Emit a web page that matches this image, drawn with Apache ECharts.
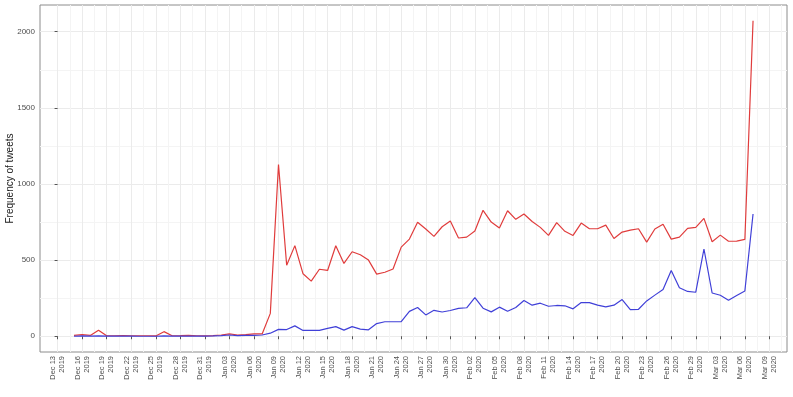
<!DOCTYPE html>
<html>
<head>
<meta charset="utf-8">
<script src="https://cdn.jsdelivr.net/npm/echarts@6/dist/echarts.min.js"></script>
<style>
  html, body { margin: 0; padding: 0; background: #fff; }
  #chart { width: 793px; height: 397px; }
</style>
</head>
<body>
<div id="chart"></div>
<script>
// daily counts, 15 Dec 2019 -> 07 Mar 2020
var dates = [
  '2019-12-15', '2019-12-16', '2019-12-17', '2019-12-18', '2019-12-19', '2019-12-20', '2019-12-21',
  '2019-12-22', '2019-12-23', '2019-12-24', '2019-12-25', '2019-12-26', '2019-12-27', '2019-12-28',
  '2019-12-29', '2019-12-30', '2019-12-31',
  '2020-01-01', '2020-01-02', '2020-01-03', '2020-01-04', '2020-01-05', '2020-01-06', '2020-01-07',
  '2020-01-08', '2020-01-09', '2020-01-10', '2020-01-11', '2020-01-12', '2020-01-13', '2020-01-14',
  '2020-01-15', '2020-01-16', '2020-01-17', '2020-01-18', '2020-01-19', '2020-01-20', '2020-01-21',
  '2020-01-22', '2020-01-23', '2020-01-24', '2020-01-25', '2020-01-26', '2020-01-27', '2020-01-28',
  '2020-01-29', '2020-01-30', '2020-01-31',
  '2020-02-01', '2020-02-02', '2020-02-03', '2020-02-04', '2020-02-05', '2020-02-06', '2020-02-07',
  '2020-02-08', '2020-02-09', '2020-02-10', '2020-02-11', '2020-02-12', '2020-02-13', '2020-02-14',
  '2020-02-15', '2020-02-16', '2020-02-17', '2020-02-18', '2020-02-19', '2020-02-20', '2020-02-21',
  '2020-02-22', '2020-02-23', '2020-02-24', '2020-02-25', '2020-02-26', '2020-02-27', '2020-02-28',
  '2020-02-29',
  '2020-03-01', '2020-03-02', '2020-03-03', '2020-03-04', '2020-03-05', '2020-03-06', '2020-03-07'
]

var redCounts = [
  5, 10, 5, 40, 3, 3, 4, 3, 3, 3, 2, 30, 3, 4, 6, 3, 2,
  4, 8, 15, 8, 10, 15, 15, 150, 1128, 466, 595, 410, 362, 440,
  432, 594, 478, 555, 535, 500, 408, 420, 442, 585, 638, 749, 704, 656,
  719, 757, 645,
  651, 691, 827, 750, 711, 824, 768, 803, 754, 715, 662, 746, 689, 662,
  743, 706, 706, 730, 642, 684, 697, 706, 618, 704, 735, 638, 651, 708, 715,
  774, 621, 664, 624, 625, 636, 2072
]

var blueCounts = [
  0, 2, 1, 2, 1, 1, 1, 1, 0, 0, 0, 2, 1, 1, 1, 1, 1,
  2, 4, 8, 4, 5, 6, 8, 20, 45, 44, 68, 38, 38, 38,
  52, 63, 40, 63, 47, 42, 83, 95, 95, 96, 163, 189, 140, 170,
  159, 169, 183,
  187, 254, 184, 160, 191, 164, 189, 235, 204, 217, 197, 202, 200, 180,
  221, 221, 204, 193, 204, 241, 175, 177, 232, 270, 307, 432, 318, 294, 289,
  573, 284, 269, 237, 268, 297, 803
]

var tickLabels = [
  'Dec 13\n2019', 'Dec 16\n2019', 'Dec 19\n2019', 'Dec 22\n2019', 'Dec 25\n2019', 'Dec 28\n2019', 'Dec 31\n2019',
  'Jan 03\n2020', 'Jan 06\n2020', 'Jan 09\n2020', 'Jan 12\n2020', 'Jan 15\n2020', 'Jan 18\n2020', 'Jan 21\n2020',
  'Jan 24\n2020', 'Jan 27\n2020', 'Jan 30\n2020', 'Feb 02\n2020', 'Feb 05\n2020', 'Feb 08\n2020', 'Feb 11\n2020',
  'Feb 14\n2020', 'Feb 17\n2020', 'Feb 20\n2020', 'Feb 23\n2020', 'Feb 26\n2020', 'Feb 29\n2020', 'Mar 03\n2020',
  'Mar 06\n2020', 'Mar 09\n2020'
]

var yTicks = [0, 500, 1000, 1500, 2000]
var yMinor = [250, 750, 1250, 1750]

// x is days since the first tick (13 Dec 2019)
var origin = Date.parse('2019-12-13')
function dayOf(d) {
  return Math.round((Date.parse(d) - origin) / 86400000)
}
var xTicks = tickLabels.map(function(l, i) { return i * 3 })
var xMinor = tickLabels.map(function(l, i) { return i * 3 + 1.5 })

var xs = dates.map(dayOf)
var spanX = xs[xs.length - 1] - xs[0]
var xMin = xs[0] - spanX * 0.05
var xMax = xs[xs.length - 1] + spanX * 0.05
var yTop = Math.max.apply(null, redCounts.concat(blueCounts))
var yMin = -yTop * 0.05
var yMax = yTop * 1.05

var gridColor = '#ebebeb'
var textColor = '#4d4d4d'

var chart = echarts.init(document.getElementById('chart'), null, { renderer: 'canvas' })
chart.setOption({
  animation: false,
  backgroundColor: '#fff',
  textStyle: { fontFamily: 'Liberation Sans, Arial, sans-serif' },
  grid: {
    left: 40,
    right: 6,
    top: 5,
    bottom: 45,
    containLabel: false,
    outerBoundsMode: 'none',
    show: true,
    borderColor: '#8c8c8c',
    borderWidth: 1,
    backgroundColor: '#fff'
  },
  xAxis: [
    {
      type: 'value',
      min: xMin,
      max: xMax,
      axisLine: { show: false },
      axisTick: { show: true, length: 3, customValues: xTicks, lineStyle: { color: '#555' } },
      axisLabel: {
        customValues: xTicks,
        rotate: 90,
        margin: 4,
        fontSize: 7.5,
        lineHeight: 9,
        color: textColor,
        formatter: function(v) { return tickLabels[Math.round(v / 3)] }
      },
      splitLine: { show: true, lineStyle: { color: gridColor, width: 1 } }
    },
    {
      type: 'value',
      min: xMin,
      max: xMax,
      axisLine: { show: false },
      axisTick: { show: false, customValues: xMinor },
      axisLabel: { show: false, customValues: xMinor },
      splitLine: { show: true, lineStyle: { color: '#f4f4f4', width: 1 } }
    }
  ],
  yAxis: [
    {
      type: 'value',
      min: yMin,
      max: yMax,
      name: 'Frequency of tweets',
      nameLocation: 'middle',
      nameRotate: 90,
      nameGap: 25,
      nameMoveOverlap: false,
      nameTextStyle: { fontSize: 10, color: '#1a1a1a' },
      axisLine: { show: false },
      axisTick: { show: true, length: 3, customValues: yTicks, lineStyle: { color: '#555' } },
      axisLabel: {
        customValues: yTicks,
        fontSize: 8,
        margin: 5,
        color: textColor,
        formatter: function(v) { return String(v) }
      },
      splitLine: { show: true, lineStyle: { color: gridColor, width: 1 } }
    },
    {
      type: 'value',
      min: yMin,
      max: yMax,
      axisLine: { show: false },
      axisTick: { show: false, customValues: yMinor },
      axisLabel: { show: false, customValues: yMinor },
      splitLine: { show: true, lineStyle: { color: '#f4f4f4', width: 1 } }
    }
  ],
  series: [
    {
      name: 'red',
      type: 'line',
      showSymbol: false,
      data: xs.map(function(x, i) { return [x, redCounts[i]] }),
      lineStyle: { color: '#e03c3c', width: 1.2 },
      itemStyle: { color: '#e03c3c' }
    },
    {
      name: 'blue',
      type: 'line',
      showSymbol: false,
      data: xs.map(function(x, i) { return [x, blueCounts[i]] }),
      lineStyle: { color: '#4040d8', width: 1.2 },
      itemStyle: { color: '#4040d8' }
    }
  ]
})
</script>
</body>
</html>
